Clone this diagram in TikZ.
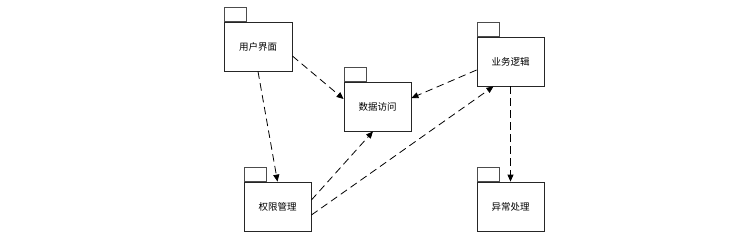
\documentclass[tikz,border=0pt]{standalone}
\usepackage{fontspec}
\newfontfamily\cjk{Noto Sans CJK SC}
\usetikzlibrary{arrows.meta}
\begin{document}
\begin{tikzpicture}[x=1pt,y=-1pt,
  pkg/.style={draw=black!85,line width=0.8pt,fill=white,minimum width=67pt,minimum height=49pt,inner sep=0pt,font=\cjk\fontsize{9.5}{11}\selectfont},
  pkgtab/.style={draw=black!70,line width=0.8pt,fill=white,minimum width=22.5pt,minimum height=13.5pt,inner sep=0pt,anchor=south west},
  dep/.style={line width=0.8pt,dash pattern=on 7.5pt off 4.5pt,-{Triangle[length=7pt,width=6pt]}}]
\useasboundingbox (0,0) rectangle (741,239);
\node[pkg,minimum width=68pt] (ui) at (258,46.5) {用户界面};
\node[pkgtab] (uitab) at (ui.north west) {};
\node[pkg] (da) at (377.5,106.5) {数据访问};
\node[pkgtab] (datab) at (da.north west) {};
\node[pkg] (bl) at (510.5,61.5) {业务逻辑};
\node[pkgtab] (bltab) at (bl.north west) {};
\node[pkg] (qx) at (277.5,206.5) {权限管理};
\node[pkgtab] (qxtab) at (qx.north west) {};
\node[pkg] (yc) at (510.5,206.5) {异常处理};
\node[pkgtab] (yctab) at (yc.north west) {};
\draw[dep] ([yshift=-9.5pt]ui.east) -- ([yshift=7.5pt]da.west);
\draw[dep] (ui.south) -- (qx.north);
\draw[dep] ([yshift=-8.5pt]bl.west) -- ([yshift=8.5pt]da.east);
\draw[dep] ([yshift=6.5pt]qx.east) -- ([xshift=-4.5pt]da.south);
\draw[dep] ([yshift=-8.5pt]qx.east) -- ([xshift=-17pt]bl.south);
\draw[dep] (bl.south) -- (yc.north);
\end{tikzpicture}
\end{document}
